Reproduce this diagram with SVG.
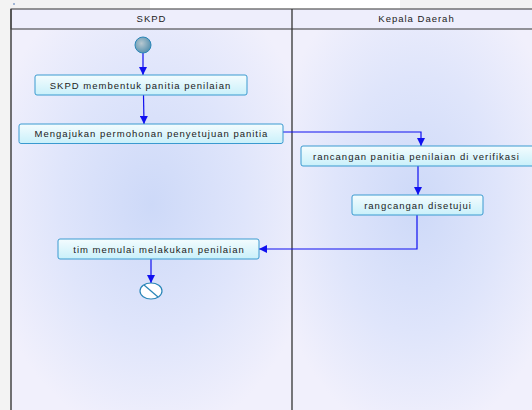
<svg xmlns="http://www.w3.org/2000/svg" width="532" height="410" viewBox="0 0 532 410">
<defs>
<radialGradient id="lane" cx="0.5" cy="0.45" r="0.6" fx="0.5" fy="0.45">
<stop offset="0" stop-color="#cdd9f8"/>
<stop offset="0.55" stop-color="#dfe5fb"/>
<stop offset="1" stop-color="#f1f0fc"/>
</radialGradient>
<linearGradient id="box" x1="0" y1="0" x2="0" y2="1">
<stop offset="0" stop-color="#f4fcfe"/>
<stop offset="1" stop-color="#c9f0fa"/>
</linearGradient>
<radialGradient id="start" cx="0.4" cy="0.4" r="0.6">
<stop offset="0" stop-color="#b8c8d0"/>
<stop offset="1" stop-color="#5a93b0"/>
</radialGradient>
<marker id="arr" viewBox="0 0 10 10" refX="10" refY="5" markerWidth="8" markerHeight="8" markerUnits="userSpaceOnUse" orient="auto">
<path d="M0,0 L10,5 L0,10 z" fill="#1010f0"/>
</marker>
</defs>
<style>
.lbl{font-family:"Liberation Sans",Arial,sans-serif;font-size:9.5px;letter-spacing:1px;fill:#222;text-anchor:middle}
.hdr{font-family:"Liberation Sans",Arial,sans-serif;font-size:9.5px;letter-spacing:1px;fill:#222;text-anchor:middle}
.act{fill:url(#box);stroke:#3a9ad0;stroke-width:1}
.con{fill:none;stroke:#1010f0;stroke-width:1.2;marker-end:url(#arr)}
</style>
<rect x="0" y="0" width="532" height="410" fill="#ffffff"/>
<rect x="0" y="0" width="11" height="410" fill="#f3f3f3"/>
<rect x="0" y="0" width="150" height="9" fill="#f3f3f3"/>
<rect x="400" y="0" width="132" height="9" fill="#f3f3f3"/>
<circle cx="14" cy="4" r="0.8" fill="#3a6ab0"/>
<g id="lanes">
<rect x="11" y="29" width="281" height="390" fill="url(#lane)"/>
<rect x="292" y="29" width="250" height="390" fill="url(#lane)"/>
<rect x="11" y="9" width="531" height="20" fill="#eeeefc" stroke="#333" stroke-width="1"/>
<line x1="11" y1="9" x2="11" y2="410" stroke="#444" stroke-width="1.5"/>
<line x1="292" y1="9" x2="292" y2="410" stroke="#333" stroke-width="1.3"/>
<text class="hdr" x="151.5" y="22">SKPD</text>
<text class="hdr" x="416.5" y="22">Kepala Daerah</text>
</g>
<g id="connectors">
<path class="con" d="M143,53 L143,75"/>
<path class="con" d="M143.5,95 L144,124"/>
<path class="con" d="M283,132 L421,132 L421,146"/>
<path class="con" d="M418,166 L418,195"/>
<path class="con" d="M417,215 L417,249 L259,249"/>
<path class="con" d="M151,259 L151,283"/>
</g>
<g id="start-node">
<circle cx="143" cy="45" r="8" fill="url(#start)" stroke="#2a86b8" stroke-width="1"/>
</g>
<g id="n1">
<rect class="act" x="35" y="75" width="212" height="20" rx="2"/>
<text class="lbl" x="140.5" y="88.5">SKPD membentuk panitia penilaian</text>
</g>
<g id="n2">
<rect class="act" x="19" y="124" width="264" height="19.5" rx="2"/>
<text class="lbl" x="151.5" y="137">Mengajukan permohonan penyetujuan panitia</text>
</g>
<g id="n3">
<rect class="act" x="301" y="146" width="240" height="20" rx="2"/>
<text class="lbl" x="416.5" y="159.5">rancangan panitia penilaian di verifikasi</text>
</g>
<g id="n4">
<rect class="act" x="352" y="195" width="131" height="20" rx="2"/>
<text class="lbl" x="418" y="208.5">rangcangan disetujui</text>
</g>
<g id="n5">
<rect class="act" x="58" y="239" width="201" height="20" rx="2"/>
<text class="lbl" x="159" y="252.5">tim memulai melakukan penilaian</text>
</g>
<g id="end-node">
<ellipse cx="151" cy="291" rx="11" ry="8" fill="#ffffff" stroke="#2a86b8" stroke-width="1.2"/>
<line x1="144" y1="285" x2="158" y2="297" stroke="#2a86b8" stroke-width="1.2"/>
</g>
</svg>
